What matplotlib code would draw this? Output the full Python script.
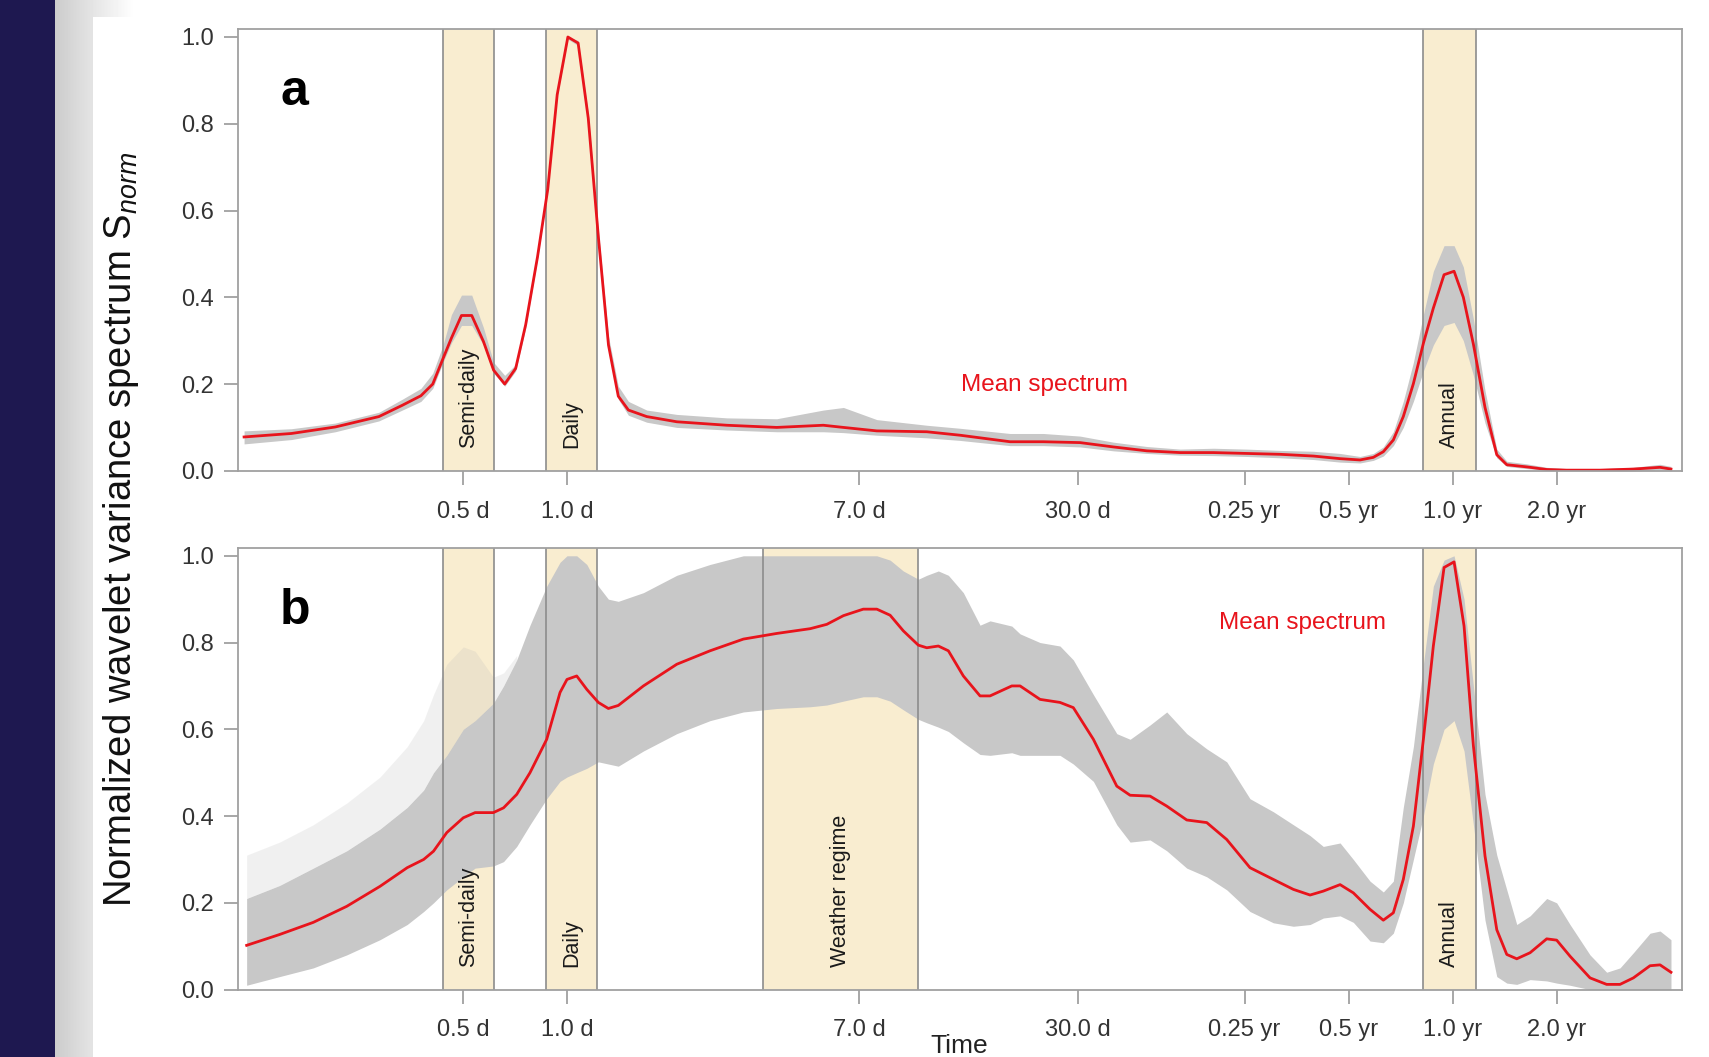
import numpy as np
import matplotlib
matplotlib.use("Agg")
import matplotlib.pyplot as plt
from matplotlib.ticker import FixedLocator, FixedFormatter, NullLocator
from matplotlib.patches import Rectangle

plt.rcParams['font.family'] = ['Liberation Sans', 'DejaVu Sans']
plt.rcParams['mathtext.fontset'] = 'custom'
plt.rcParams['mathtext.rm'] = 'Liberation Sans'
plt.rcParams['mathtext.it'] = 'Liberation Sans:italic'

# ---------------- data ----------------
tick_periods = [0.5, 1.0, 7.0, 30.0, 91.3125, 182.625, 365.25, 730.5]
tick_labels = ['0.5 d', '1.0 d', '7.0 d', '30.0 d', '0.25 yr', '0.5 yr', '1.0 yr', '2.0 yr']
y_ticks = [0.0, 0.2, 0.4, 0.6, 0.8, 1.0]

band_names_a = ['Semi-daily', 'Daily', 'Annual']
band_lo_a = [0.4355, 0.868, 300.9]
band_hi_a = [0.6127, 1.222, 426.6]
band_names_b = ['Semi-daily', 'Daily', 'Weather regime', 'Annual']
band_lo_b = [0.4355, 0.868, 3.688, 300.9]
band_hi_b = [0.6127, 1.222, 10.34, 426.6]

periods_a = [0.116, 0.159, 0.213, 0.285, 0.333, 0.377, 0.408, 0.437, 0.462, 0.494,
             0.529, 0.572, 0.612, 0.659, 0.709, 0.758, 0.820, 0.878, 0.935, 1.004,
             1.075, 1.150, 1.230, 1.316, 1.405, 1.503, 1.698, 2.075, 2.896, 4.04,
             5.51, 6.30, 7.87, 10.98, 13.71, 19.13, 23.88, 30.5, 38.1, 47.6,
             59.4, 74.2, 92.6, 115.7, 144.4, 172.6, 197.1, 215.4, 230.2, 246.1,
             263.0, 281.3, 300.7, 321.3, 345.1, 368.9, 392.4, 419.6, 453.4, 490.4,
             524.2, 599, 684, 782, 976, 1219, 1456, 1566]
mean_a = [0.078, 0.086, 0.101, 0.125, 0.151, 0.173, 0.200, 0.259, 0.306, 0.358,
          0.358, 0.298, 0.232, 0.200, 0.236, 0.337, 0.493, 0.649, 0.867, 1.000,
          0.986, 0.813, 0.540, 0.290, 0.172, 0.140, 0.125, 0.113, 0.105, 0.100,
          0.105, 0.100, 0.092, 0.090, 0.082, 0.067, 0.067, 0.065, 0.055, 0.046,
          0.042, 0.042, 0.040, 0.038, 0.034, 0.028, 0.025, 0.031, 0.044, 0.071,
          0.125, 0.201, 0.294, 0.375, 0.452, 0.460, 0.400, 0.292, 0.146, 0.037,
          0.014, 0.009, 0.003, 0.0015, 0.0015, 0.004, 0.008, 0.004]
lower_a = [0.062, 0.072, 0.090, 0.115, 0.140, 0.160, 0.190, 0.250, 0.295, 0.335,
           0.335, 0.290, 0.225, 0.195, 0.230, 0.330, 0.488, 0.645, 0.862, 0.995,
           0.980, 0.805, 0.530, 0.280, 0.165, 0.128, 0.112, 0.100, 0.094, 0.090,
           0.090, 0.088, 0.082, 0.076, 0.070, 0.058, 0.058, 0.055, 0.046, 0.040,
           0.036, 0.035, 0.033, 0.030, 0.026, 0.020, 0.018, 0.024, 0.034, 0.058,
           0.100, 0.160, 0.230, 0.290, 0.335, 0.342, 0.300, 0.220, 0.110, 0.030,
           0.010, 0.005, 0.001, 0.0, 0.0, 0.0, 0.002, 0.001]
upper_a = [0.092, 0.097, 0.110, 0.135, 0.165, 0.190, 0.225, 0.290, 0.360, 0.405,
           0.405, 0.330, 0.250, 0.220, 0.245, 0.345, 0.500, 0.655, 0.872, 1.000,
           0.992, 0.825, 0.555, 0.310, 0.195, 0.160, 0.140, 0.130, 0.122, 0.120,
           0.140, 0.146, 0.118, 0.105, 0.098, 0.086, 0.086, 0.080, 0.066, 0.056,
           0.050, 0.052, 0.050, 0.047, 0.045, 0.040, 0.033, 0.040, 0.055, 0.090,
           0.160, 0.250, 0.360, 0.460, 0.519, 0.519, 0.470, 0.350, 0.185, 0.050,
           0.022, 0.016, 0.008, 0.005, 0.005, 0.008, 0.015, 0.010]

periods_b = [0.118, 0.147, 0.184, 0.230, 0.287, 0.344, 0.384, 0.410, 0.448, 0.500,
             0.541, 0.611, 0.654, 0.714, 0.780, 0.872, 0.953, 0.998, 1.065, 1.139,
             1.230, 1.315, 1.405, 1.661, 2.075, 2.590, 3.234, 4.04, 5.05, 5.64,
             6.30, 7.19, 7.87, 8.60, 9.39, 10.38, 10.98, 11.86, 12.68, 14.01,
             15.66, 16.74, 19.35, 20.45, 23.36, 26.68, 29.16, 33.33, 38.96, 42.58,
             48.64, 54.35, 62.11, 70.96, 81.07, 94.67, 110.6, 126.4, 141.3, 154.3,
             172.6, 188.5, 210.7, 230.2, 246.1, 263.0, 281.3, 300.7, 321.3, 345.1,
             368.9, 394.3, 419.6, 453.4, 490.4, 524.2, 560.3, 612.3, 684, 731,
             799, 913, 1020, 1115, 1219, 1362, 1456, 1566]
mean_b = [0.102, 0.127, 0.155, 0.192, 0.238, 0.281, 0.300, 0.319, 0.362, 0.396,
          0.408, 0.408, 0.419, 0.450, 0.500, 0.577, 0.685, 0.715, 0.723, 0.692,
          0.662, 0.648, 0.655, 0.700, 0.750, 0.781, 0.808, 0.821, 0.832, 0.842,
          0.862, 0.877, 0.877, 0.863, 0.827, 0.794, 0.788, 0.792, 0.781, 0.723,
          0.677, 0.677, 0.700, 0.700, 0.669, 0.662, 0.650, 0.577, 0.469, 0.448,
          0.446, 0.423, 0.391, 0.385, 0.346, 0.281, 0.254, 0.231, 0.218, 0.227,
          0.242, 0.223, 0.185, 0.160, 0.177, 0.254, 0.377, 0.577, 0.792, 0.973,
          0.986, 0.838, 0.562, 0.308, 0.138, 0.081, 0.071, 0.085, 0.117, 0.114,
          0.077, 0.027, 0.012, 0.012, 0.027, 0.055, 0.057, 0.040]
lower_b = [0.010, 0.030, 0.050, 0.080, 0.115, 0.150, 0.180, 0.200, 0.230, 0.260,
           0.280, 0.285, 0.295, 0.330, 0.380, 0.440, 0.480, 0.490, 0.500, 0.510,
           0.525, 0.520, 0.515, 0.550, 0.590, 0.620, 0.640, 0.648, 0.652, 0.656,
           0.665, 0.675, 0.675, 0.665, 0.645, 0.623, 0.615, 0.605, 0.595, 0.569,
           0.542, 0.540, 0.546, 0.540, 0.540, 0.540, 0.520, 0.480, 0.380, 0.340,
           0.345, 0.320, 0.280, 0.260, 0.230, 0.180, 0.154, 0.146, 0.150, 0.165,
           0.170, 0.155, 0.112, 0.108, 0.130, 0.200, 0.300, 0.400, 0.520, 0.600,
           0.620, 0.550, 0.380, 0.160, 0.030, 0.015, 0.012, 0.023, 0.020, 0.015,
           0.010, 0.000, 0.000, 0.000, 0.000, 0.000, 0.000, 0.000]
upper_b = [0.210, 0.240, 0.280, 0.320, 0.370, 0.420, 0.460, 0.500, 0.540, 0.600,
           0.620, 0.660, 0.700, 0.760, 0.840, 0.930, 0.985, 1.000, 1.000, 0.980,
           0.930, 0.900, 0.895, 0.915, 0.955, 0.980, 1.000, 1.000, 1.000, 1.000,
           1.000, 1.000, 1.000, 0.990, 0.965, 0.946, 0.955, 0.965, 0.955, 0.915,
           0.840, 0.850, 0.838, 0.820, 0.800, 0.792, 0.760, 0.680, 0.590, 0.577,
           0.610, 0.640, 0.590, 0.555, 0.525, 0.440, 0.410, 0.380, 0.355, 0.330,
           0.338, 0.300, 0.250, 0.225, 0.250, 0.420, 0.560, 0.750, 0.930, 0.990,
           1.000, 0.900, 0.700, 0.450, 0.310, 0.230, 0.150, 0.170, 0.210, 0.200,
           0.150, 0.080, 0.040, 0.050, 0.085, 0.130, 0.135, 0.115]
# faint outlying spectra (first 14 periods of panel b)
faint_upper_b = [0.31, 0.34, 0.38, 0.43, 0.49, 0.56, 0.62, 0.68, 0.75, 0.79,
                 0.78, 0.72, 0.73, 0.77]

mean_label_a = (24.0, 0.198)
mean_label_b = (134.3, 0.844)

# ---------------- style ----------------
W, H = 1709, 1057
BEIGE = '#f9edd0'
GRAY = '#c8c8c8'
RED = '#e8141c'
EDGE = '#8c8c8c'
SPINE = '#a0a0a0'
TXT = '#333333'

fig = plt.figure(figsize=(W / 100, H / 100), dpi=100)

# page background decoration
bg = fig.add_axes([0, 0, 1, 1], zorder=-10)
bg.set_xlim(0, W)
bg.set_ylim(H, 0)
bg.axis('off')
grad = np.linspace(0.80, 1.0, 80)[None, :].repeat(2, axis=0)
bg.imshow(grad, cmap='gray', vmin=0, vmax=1, extent=(55, 135, H, 0), aspect='auto')
bg.add_patch(Rectangle((93, 17), W - 93, H - 17, facecolor='white', edgecolor='none'))
bg.add_patch(Rectangle((0, 0), 55, H, facecolor='#1e1850', edgecolor='none'))
bg.set_xlim(0, W)
bg.set_ylim(H, 0)

left = 237.6 / W
width = (1681.7 - 237.6) / W
ax_h = (470.8 - 29.4) / H
ax_a = fig.add_axes([left, 1 - 470.8 / H, width, ax_h])
ax_b = fig.add_axes([left, 1 - 989.6 / H, width, ax_h])


def panel(ax, periods, mean, lo, hi, names, blo, bhi, letter, mlabel):
    for name, a, b in zip(names, blo, bhi):
        ax.axvspan(a, b, facecolor=BEIGE, edgecolor='none', zorder=0)
        ax.axvline(a, color=EDGE, lw=1.2, zorder=2.5)
        ax.axvline(b, color=EDGE, lw=1.2, zorder=2.5)
        ax.text(np.sqrt(a * b), 0.052, name, rotation=90, ha='center', va='bottom',
                fontsize=15.5, color='#1a1a1a', zorder=5,
                transform=ax.get_xaxis_transform())
    ax.fill_between(periods, lo, hi, color=GRAY, lw=0, zorder=1)
    ax.plot(periods, mean, color=RED, lw=2.0, zorder=3)
    ax.text(mlabel[0], mlabel[1], 'Mean spectrum', color=RED, fontsize=17.5,
            ha='center', va='center', zorder=5)
    ax.text(0.0294, 0.828, letter, transform=ax.transAxes, fontsize=36,
            fontweight='bold', ha='left', va='baseline', zorder=5)
    ax.set_xscale('log')
    ax.set_xlim(0.1111, 1682)
    ax.set_ylim(0, 1.0175)
    ax.xaxis.set_major_locator(FixedLocator(tick_periods))
    ax.xaxis.set_major_formatter(FixedFormatter(tick_labels))
    ax.xaxis.set_minor_locator(NullLocator())
    ax.set_yticks(y_ticks)
    ax.set_yticklabels([f'{v:.1f}' for v in y_ticks])
    ax.tick_params(axis='both', length=10, width=1.1, color='#909090',
                   labelsize=17, labelcolor=TXT)
    ax.tick_params(axis='x', pad=11.5)
    ax.tick_params(axis='y', pad=7)
    for s in ax.spines.values():
        s.set_color(SPINE)
        s.set_linewidth(1.3)
        s.set_zorder(6)


panel(ax_a, periods_a, mean_a, lower_a, upper_a, band_names_a, band_lo_a, band_hi_a,
      'a', mean_label_a)
panel(ax_b, periods_b, mean_b, lower_b, upper_b, band_names_b, band_lo_b, band_hi_b,
      'b', mean_label_b)
ax_b.fill_between(periods_b[:14], upper_b[:14], faint_upper_b, color='#b8b8b8',
                  alpha=0.2, lw=0, zorder=1)

fig.text(121 / W, 1 - 529 / H, r'Normalized wavelet variance spectrum $\mathrm{S}_{norm}$',
         rotation=90, ha='center', va='center', fontsize=27.5, color='#111111')
fig.text(959 / W, 1 - 1034 / H, 'Time', ha='center', va='top', fontsize=19, color='#222222')

fig.savefig('out.png', dpi=100)
